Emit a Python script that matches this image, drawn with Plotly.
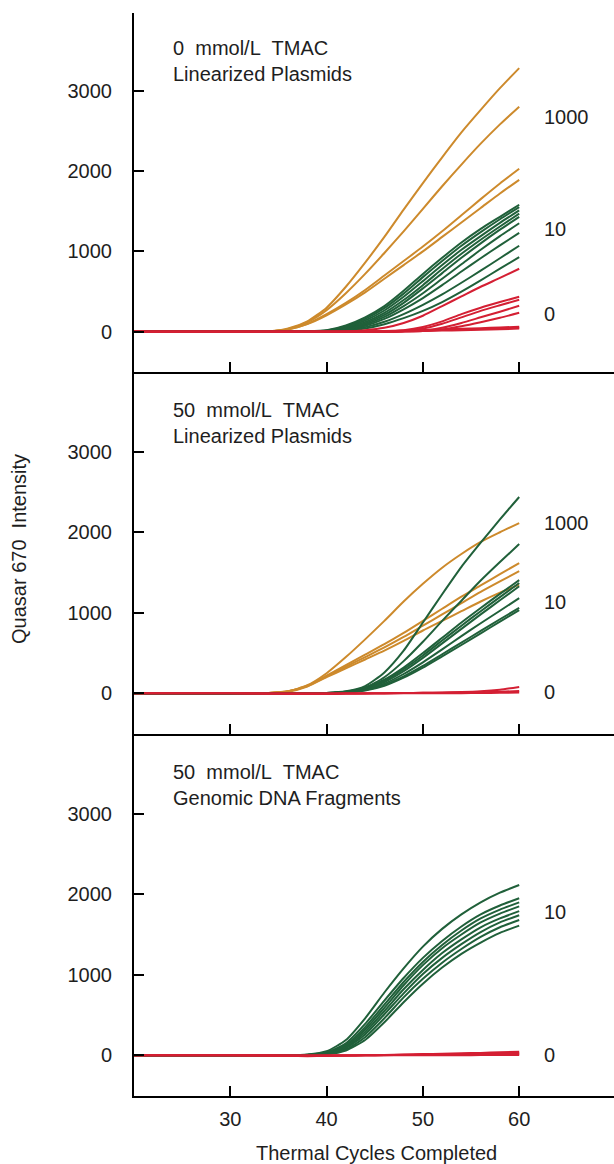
import plotly.graph_objects as go

# ---------------- data ----------------
cycles = [20, 30, 34, 36, 38, 40, 42, 44, 46, 48, 50, 52, 54, 56, 58, 60]

# Panel 1: 0 mmol/L TMAC, linearized plasmids
p1_orange = [
    [0, 0, 5, 40, 130, 300, 560, 860, 1180, 1520, 1850, 2170, 2480, 2760, 3030, 3280],
    [0, 0, 5, 35, 120, 270, 480, 720, 980, 1250, 1530, 1810, 2080, 2340, 2580, 2800],
    [0, 0, 5, 30, 100, 220, 360, 520, 700, 880, 1060, 1250, 1450, 1650, 1845, 2027],
    [0, 0, 5, 28, 95, 205, 340, 490, 660, 830, 1000, 1180, 1360, 1540, 1720, 1890],
]
p1_green = [
    [0, 0, 0, 0, 5, 20, 80, 180, 320, 510, 720, 920, 1110, 1280, 1430, 1580],
    [0, 0, 0, 0, 4, 16, 70, 160, 295, 475, 680, 880, 1070, 1240, 1400, 1550],
    [0, 0, 0, 0, 3, 13, 60, 140, 265, 435, 630, 830, 1020, 1190, 1355, 1510],
    [0, 0, 0, 0, 3, 11, 50, 120, 235, 395, 580, 780, 970, 1145, 1310, 1470],
    [0, 0, 0, 0, 2, 9, 42, 105, 210, 360, 540, 730, 920, 1100, 1270, 1430],
    [0, 0, 0, 0, 2, 8, 36, 90, 185, 320, 480, 660, 840, 1020, 1190, 1350],
    [0, 0, 0, 0, 2, 6, 30, 75, 160, 280, 420, 580, 750, 915, 1075, 1230],
    [0, 0, 0, 0, 1, 5, 22, 58, 125, 220, 335, 465, 610, 760, 915, 1070],
    [0, 0, 0, 0, 1, 3, 15, 42, 95, 170, 260, 370, 500, 640, 785, 930],
]
p1_red = [
    [0, 0, 0, 0, 0, 0, 5, 20, 50, 110, 200, 320, 440, 560, 670, 784],
    [0, 0, 0, 0, 0, 0, 0, 2, 5, 20, 60, 130, 220, 300, 370, 435],
    [0, 0, 0, 0, 0, 0, 0, 0, 2, 10, 40, 100, 180, 260, 330, 398],
    [0, 0, 0, 0, 0, 0, 0, 0, 0, 5, 15, 50, 110, 180, 250, 323],
    [0, 0, 0, 0, 0, 0, 0, 0, 0, 3, 10, 30, 70, 120, 175, 236],
    [0, 0, 0, 0, 0, 0, 2, 5, 10, 15, 22, 30, 38, 45, 55, 62],
    [0, 0, 0, 0, 0, 0, 0, 3, 6, 10, 15, 22, 28, 35, 42, 50],
    [0, 0, 0, 0, 0, 0, 0, 2, 4, 6, 10, 15, 20, 25, 32, 40],
]

# Panel 2: 50 mmol/L TMAC, linearized plasmids
p2_orange = [
    [0, 0, 5, 25, 100, 250, 450, 670, 900, 1140, 1360, 1560, 1730, 1880, 2000, 2114],
    [0, 0, 5, 25, 95, 220, 350, 480, 610, 750, 900, 1050, 1200, 1340, 1480, 1617],
    [0, 0, 5, 25, 90, 210, 330, 450, 570, 700, 840, 980, 1120, 1260, 1390, 1517],
    [0, 0, 5, 20, 85, 200, 310, 420, 530, 650, 780, 900, 1020, 1140, 1250, 1350],
]
p2_green = [
    [0, 0, 0, 0, 0, 5, 25, 90, 260, 530, 880, 1230, 1570, 1870, 2160, 2438],
    [0, 0, 0, 0, 0, 5, 20, 70, 200, 400, 640, 900, 1150, 1400, 1630, 1853],
    [0, 0, 0, 0, 0, 4, 20, 70, 170, 320, 500, 690, 880, 1060, 1235, 1405],
    [0, 0, 0, 0, 0, 3, 17, 60, 155, 300, 470, 655, 840, 1020, 1195, 1370],
    [0, 0, 0, 0, 0, 3, 15, 55, 140, 275, 440, 620, 800, 980, 1155, 1330],
    [0, 0, 0, 0, 0, 2, 12, 45, 120, 240, 385, 545, 710, 870, 1025, 1182],
    [0, 0, 0, 0, 0, 2, 10, 40, 105, 210, 340, 485, 630, 775, 920, 1060],
    [0, 0, 0, 0, 0, 2, 10, 35, 95, 195, 320, 460, 600, 745, 890, 1032],
]
p2_red = [
    [0, 0, 0, 0, 0, 0, 0, 0, 2, 4, 6, 10, 15, 25, 45, 80],
    [0, 0, -5, -5, -5, -5, -3, 0, 2, 4, 6, 8, 10, 14, 20, 30],
    [0, 0, -5, -8, -8, -8, -6, -4, -2, 0, 0, 0, 2, 4, 6, 10],
]

# Panel 3: 50 mmol/L TMAC, genomic DNA fragments
p3_green = [
    [0, 0, 0, 0, 10, 50, 190, 460, 780, 1080, 1350, 1570, 1750, 1900, 2020, 2115],
    [0, 0, 0, 0, 6, 38, 150, 390, 680, 960, 1210, 1420, 1600, 1750, 1860, 1950],
    [0, 0, 0, 0, 5, 32, 130, 350, 630, 910, 1160, 1370, 1550, 1700, 1810, 1900],
    [0, 0, 0, 0, 4, 27, 115, 320, 590, 870, 1120, 1330, 1500, 1650, 1760, 1850],
    [0, 0, 0, 0, 4, 23, 100, 290, 550, 820, 1060, 1270, 1440, 1590, 1700, 1790],
    [0, 0, 0, 0, 3, 20, 88, 260, 510, 770, 1010, 1210, 1380, 1530, 1650, 1740],
    [0, 0, 0, 0, 3, 16, 72, 225, 460, 720, 950, 1150, 1320, 1470, 1590, 1680],
    [0, 0, 0, 0, 2, 12, 60, 190, 410, 660, 890, 1090, 1260, 1400, 1520, 1610],
]
p3_red = [
    [0, 0, -5, -8, -10, -8, -5, 0, 5, 10, 15, 20, 25, 30, 38, 45],
    [0, 0, -3, -5, -8, -6, -3, 0, 3, 6, 10, 14, 18, 22, 26, 30],
    [0, 0, 0, -3, -5, -4, -2, 0, 2, 4, 6, 8, 10, 12, 15, 18],
    [0, 0, 0, 0, 0, 0, 0, 0, 0, 0, 0, 0, 2, 3, 4, 5],
]

x_ticks = [30, 40, 50, 60]
x_tick_labels = ["30", "40", "50", "60"]
y_ticks = [0, 1000, 2000, 3000]
y_tick_labels = ["0", "1000", "2000", "3000"]

panel_titles = [
    "0\u00a0 mmol/L\u00a0 TMAC<br>Linearized Plasmids",
    "50\u00a0 mmol/L\u00a0 TMAC<br>Linearized Plasmids",
    "50\u00a0 mmol/L\u00a0 TMAC<br>Genomic DNA Fragments",
]
# copy-number labels at right of each panel: (text, pixel y)
p1_copy_labels = [("1000", 117), ("10", 229), ("0", 314)]
p2_copy_labels = [("1000", 523), ("10", 602), ("0", 692)]
p3_copy_labels = [("10", 912), ("0", 1055)]

# ---------------- styling / layout ----------------
W, H = 614, 1164
LEFT, TOP, BOTTOM = 134, 13, 1096
PH = BOTTOM - TOP
PW = W - LEFT
panel_px = [(13, 372), (372, 734), (734, 1096)]
y_ranges = [[-500, 3965], [-505, 3990], [-505, 3990]]
x_range = [20, 20 + PW / 9.63]

ORANGE = "#CD8A2C"
GREEN = "#20603A"
RED = "#D41F33"
FONT = "Liberation Sans, Arial, Helvetica, sans-serif"
TXT = "#1e1e1e"

def py(p):
    return (BOTTOM - p) / PH

def px(p):
    return (p - LEFT) / PW

fig = go.Figure()

panels = [
    (p1_orange, p1_green, p1_red),
    (p2_orange, p2_green, p2_red),
    ([], p3_green, p3_red),
]
for i, (org, grn, red) in enumerate(panels):
    xa = "x" if i == 0 else f"x{i+1}"
    ya = "y" if i == 0 else f"y{i+1}"
    for group, col in ((org, ORANGE), (grn, GREEN), (red, RED)):
        for vals in group:
            fig.add_trace(go.Scatter(
                x=cycles, y=vals, mode="lines", xaxis=xa, yaxis=ya,
                line=dict(color=col, width=2, shape="spline", smoothing=0.6),
                showlegend=False, hoverinfo="skip"))

axis_common = dict(showline=True, linecolor="black", linewidth=2,
                   ticks="inside", ticklen=10, tickwidth=2, tickcolor="black",
                   showgrid=False, zeroline=False,
                   tickfont=dict(family=FONT, size=20, color=TXT))

layout = dict(width=W, height=H, margin=dict(l=LEFT, r=0, t=TOP, b=H - BOTTOM),
              paper_bgcolor="white", plot_bgcolor="white", showlegend=False)

for i, (t, b) in enumerate(panel_px):
    xk = "xaxis" if i == 0 else f"xaxis{i+1}"
    yk = "yaxis" if i == 0 else f"yaxis{i+1}"
    ya = "y" if i == 0 else f"y{i+1}"
    xa = "x" if i == 0 else f"x{i+1}"
    layout[xk] = dict(axis_common, range=x_range, anchor=ya, domain=[0, 1],
                      tickvals=x_ticks, ticktext=x_tick_labels,
                      showticklabels=(i == 2), ticklabelstandoff=4)
    layout[yk] = dict(axis_common, range=y_ranges[i], anchor=xa,
                      domain=[py(b), py(t)],
                      tickvals=y_ticks, ticktext=y_tick_labels,
                      ticklabelstandoff=16)

fig.update_layout(**layout)

ann = []
title_tops = [35, 397, 759]
for i, txt in enumerate(panel_titles):
    ann.append(dict(text=txt, xref="paper", yref="paper", x=px(171), y=py(title_tops[i]),
                    xanchor="left", yanchor="top", showarrow=False, align="left",
                    font=dict(family=FONT, size=20, color=TXT)))
for labels in (p1_copy_labels, p2_copy_labels, p3_copy_labels):
    for txt, ypix in labels:
        ann.append(dict(text=txt, xref="paper", yref="paper", x=px(542), y=py(ypix),
                        xanchor="left", yanchor="middle", showarrow=False,
                        font=dict(family=FONT, size=20, color=TXT)))
ann.append(dict(text="Quasar 670\u00a0 Intensity", xref="paper", yref="paper",
                x=px(19), y=py(549), xanchor="center", yanchor="middle",
                textangle=-90, showarrow=False,
                font=dict(family=FONT, size=20, color=TXT)))
ann.append(dict(text="Thermal Cycles Completed", xref="paper", yref="paper",
                x=px(376), y=py(1153), xanchor="center", yanchor="middle",
                showarrow=False, font=dict(family=FONT, size=20, color=TXT)))
fig.update_layout(annotations=ann)

fig.write_html("out.html")
